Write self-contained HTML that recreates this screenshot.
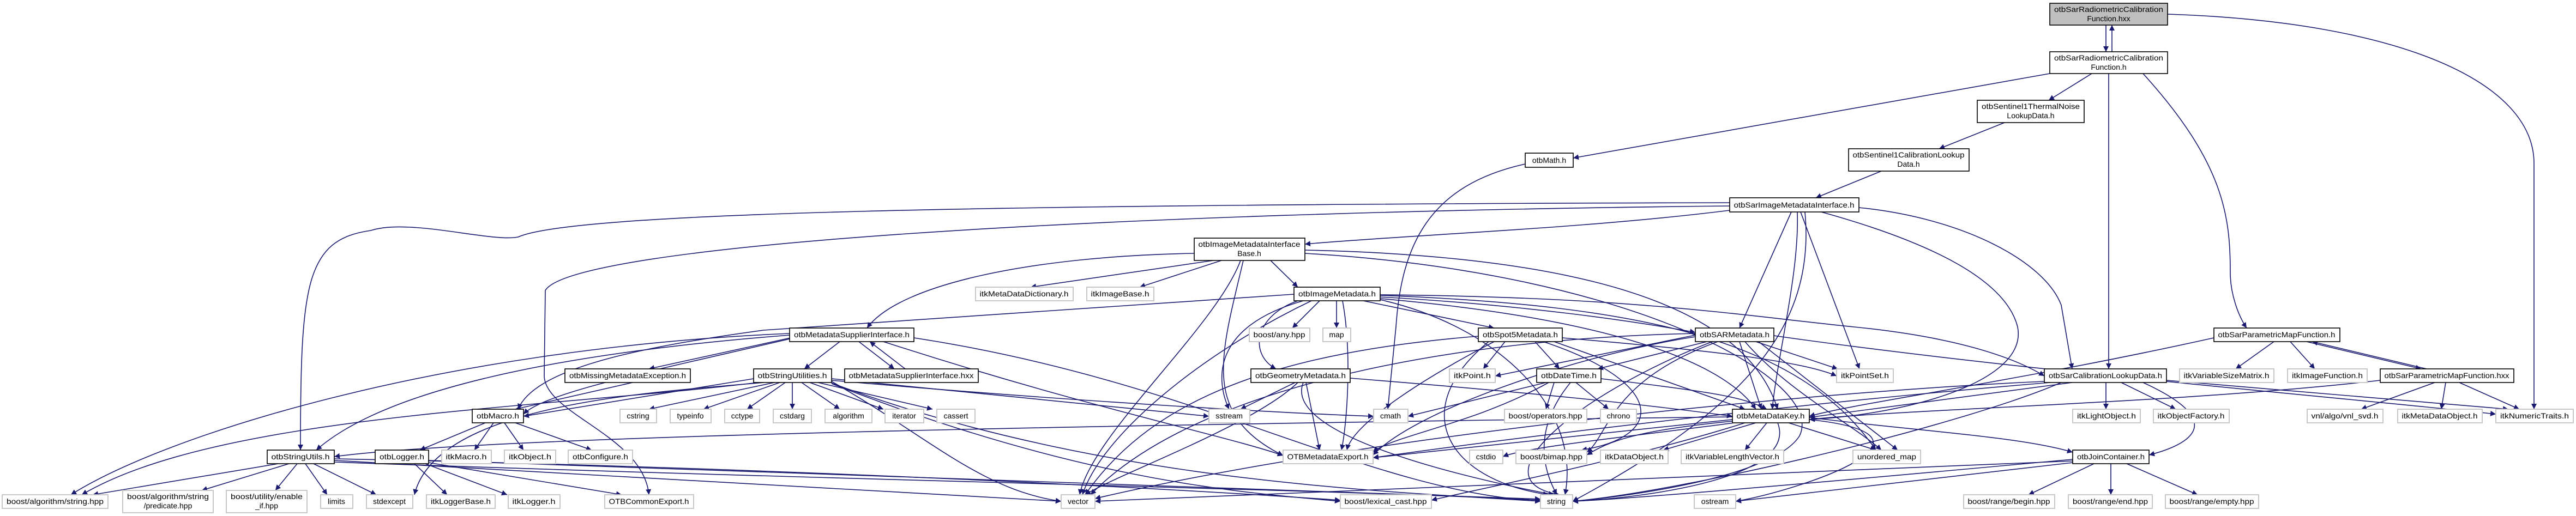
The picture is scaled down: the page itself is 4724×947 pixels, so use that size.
<!DOCTYPE html>
<html><head><meta charset="utf-8"><style>
html,body{margin:0;padding:0;background:#fff;}
svg{display:block;}
text{font-family:"Liberation Sans",sans-serif;font-size:14px;fill:#000;}
.e path{fill:none;stroke:#191970;stroke-width:1.6;}
.n{fill:#fff;stroke:#000;stroke-width:1.6;}
.x{fill:#fff;stroke:#c8c8c8;stroke-width:2;}
</style></head><body>
<svg width="4724" height="947" viewBox="0 0 4724 947" xmlns="http://www.w3.org/2000/svg">
<defs><marker id="a" viewBox="0 0 10 10" refX="10" refY="5" markerWidth="10" markerHeight="10" markerUnits="userSpaceOnUse" orient="auto"><path d="M0,0 L10,5 L0,10 z" fill="#191970"/></marker></defs>
<g class="e" marker-end="url(#a)">
<path marker-end="url(#a)" d="M3862,46 L3862,95"/>
<path marker-end="url(#a)" d="M3873,95 L3873,46"/>
<path marker-end="url(#a)" d="M3975,26 C4400,40 4647,150 4647,300 L4647,751"/>
<path marker-end="url(#a)" d="M3759,135 L2885,290"/>
<path marker-end="url(#a)" d="M3836,135 L3757,184"/>
<path marker-end="url(#a)" d="M3867,135 L3867,677"/>
<path marker-end="url(#a)" d="M3930,135 C4080,300 4090,400 4090,500 C4090,540 4105,580 4120,602"/>
<path marker-end="url(#a)" d="M3676,225 L3556,273"/>
<path marker-end="url(#a)" d="M3450,314 L3330,363"/>
<path marker-end="url(#a)" d="M2797,301 C2620,340 2570,450 2560,600 L2545,751"/>
<path marker-end="url(#a)" d="M3172,386 C2900,420 2600,430 2393,448"/>
<path marker-end="url(#a)" d="M3172,372 C1800,375 1050,390 950,435 C900,445 750,400 680,423 C560,440 551,520 551,826"/>
<path marker-end="url(#a)" d="M3172,378 C2000,390 1050,450 1000,533 L998,690 C1000,760 1180,800 1190,908"/>
<path marker-end="url(#a)" d="M3285,389 L3190,602"/>
<path marker-end="url(#a)" d="M3296,389 C3300,500 3260,650 3250,751"/>
<path marker-end="url(#a)" d="M3302,389 L3410,677"/>
<path marker-end="url(#a)" d="M3409,381 C3600,400 3750,480 3780,560 L3800,677"/>
<path marker-end="url(#a)" d="M3340,389 C3560,450 3680,520 3700,600 C3720,700 3500,760 3318,770"/>
<path marker-end="url(#a)" d="M3310,389 C3330,600 3200,750 2884,920"/>
<path marker-end="url(#a)" d="M2225,478 L1890,527"/>
<path marker-end="url(#a)" d="M2240,478 L2090,527"/>
<path marker-end="url(#a)" d="M2330,478 L2380,527"/>
<path marker-end="url(#a)" d="M2190,465 C1900,470 1650,520 1590,602"/>
<path marker-end="url(#a)" d="M2275,478 C2230,600 2000,800 1980,908"/>
<path marker-end="url(#a)" d="M2280,478 C2240,650 2200,760 2353,836"/>
<path marker-end="url(#a)" d="M2393,459 C2900,470 3200,560 3260,751"/>
<path marker-end="url(#a)" d="M2393,465 C3000,500 3350,700 3300,800 C3250,880 2950,915 2884,920"/>
<path marker-end="url(#a)" d="M2420,552 L2370,602"/>
<path marker-end="url(#a)" d="M2451,552 L2451,602"/>
<path marker-end="url(#a)" d="M2500,552 L2740,602"/>
<path marker-end="url(#a)" d="M2531,545 C2800,560 3000,590 3109,610"/>
<path marker-end="url(#a)" d="M2380,552 C2300,580 2290,650 2340,677"/>
<path marker-end="url(#a)" d="M2373,540 L1400,606 C1150,640 980,680 950,751"/>
<path marker-end="url(#a)" d="M2405,552 C2200,650 2020,800 1985,908"/>
<path marker-end="url(#a)" d="M2462,552 C2480,650 2470,780 2460,826"/>
<path marker-end="url(#a)" d="M2531,548 C2900,580 3150,650 3220,751"/>
<path marker-end="url(#a)" d="M2390,552 C2220,600 2230,700 2254,751"/>
<path marker-end="url(#a)" d="M2531,550 C2750,600 2900,750 2870,908"/>
<path marker-end="url(#a)" d="M2531,542 C3000,560 3300,620 3440,826"/>
<path marker-end="url(#a)" d="M2531,541 C3000,545 3200,580 3400,600 C3600,620 3700,660 3749,690"/>
<path marker-end="url(#a)" d="M1540,627 L1475,677"/>
<path marker-end="url(#a)" d="M1575,627 L1640,677"/>
<path marker-end="url(#a)" d="M1660,677 L1595,627"/>
<path marker-end="url(#a)" d="M1450,620 L1190,677"/>
<path marker-end="url(#a)" d="M1448,622 C1200,680 1000,720 960,760"/>
<path marker-end="url(#a)" d="M1448,615 C1000,650 700,720 580,826"/>
<path marker-end="url(#a)" d="M1448,612 C800,640 300,800 130,908"/>
<path marker-end="url(#a)" d="M1620,627 C2000,750 2250,800 2353,836"/>
<path marker-end="url(#a)" d="M1676,620 C2200,700 2500,900 2825,920"/>
<path marker-end="url(#a)" d="M1420,702 L1190,751"/>
<path marker-end="url(#a)" d="M1430,702 L1290,751"/>
<path marker-end="url(#a)" d="M1440,702 L1370,751"/>
<path marker-end="url(#a)" d="M1453,702 L1453,751"/>
<path marker-end="url(#a)" d="M1470,702 L1540,751"/>
<path marker-end="url(#a)" d="M1485,702 L1620,751"/>
<path marker-end="url(#a)" d="M1500,702 L1710,751"/>
<path marker-end="url(#a)" d="M1525,695 L2217,764"/>
<path marker-end="url(#a)" d="M1525,698 C2000,740 2400,760 2519,764"/>
<path marker-end="url(#a)" d="M1525,700 C1700,800 1800,900 1946,920"/>
<path marker-end="url(#a)" d="M1525,703 C2000,880 2500,900 2825,920"/>
<path marker-end="url(#a)" d="M1525,704 C2000,890 2300,905 2458,920"/>
<path marker-end="url(#a)" d="M1382,695 L960,764"/>
<path marker-end="url(#a)" d="M1400,702 C1200,720 800,740 760,908"/>
<path marker-end="url(#a)" d="M1390,702 C1000,750 400,760 150,908"/>
<path marker-end="url(#a)" d="M1160,702 L945,751"/>
<path marker-end="url(#a)" d="M890,776 L770,826"/>
<path marker-end="url(#a)" d="M905,776 L870,826"/>
<path marker-end="url(#a)" d="M925,776 L960,826"/>
<path marker-end="url(#a)" d="M945,776 L1085,826"/>
<path marker-end="url(#a)" d="M510,851 L170,908"/>
<path marker-end="url(#a)" d="M530,851 L370,900"/>
<path marker-end="url(#a)" d="M545,851 L505,900"/>
<path marker-end="url(#a)" d="M560,851 L600,908"/>
<path marker-end="url(#a)" d="M575,851 L690,908"/>
<path marker-end="url(#a)" d="M613,845 C1200,880 1700,905 1946,920"/>
<path marker-end="url(#a)" d="M613,848 C1500,880 2500,900 2825,918"/>
<path marker-end="url(#a)" d="M613,842 C1500,860 2200,900 2458,918"/>
<path marker-end="url(#a)" d="M760,851 L820,908"/>
<path marker-end="url(#a)" d="M780,851 L930,908"/>
<path marker-end="url(#a)" d="M786,849 L1140,908"/>
<path marker-end="url(#a)" d="M786,845 C1500,870 2400,900 2825,916"/>
<path marker-end="url(#a)" d="M2375,702 L2275,751"/>
<path marker-end="url(#a)" d="M2380,702 C2300,780 2050,870 1990,908"/>
<path marker-end="url(#a)" d="M2395,702 L2420,826"/>
<path marker-end="url(#a)" d="M2390,702 C2350,800 2700,880 2850,908"/>
<path marker-end="url(#a)" d="M2476,694 C2800,720 3000,740 3177,764"/>
<path marker-end="url(#a)" d="M2760,627 L2720,677"/>
<path marker-end="url(#a)" d="M2815,627 L2860,677"/>
<path marker-end="url(#a)" d="M2740,627 C2600,700 2480,780 2470,826"/>
<path marker-end="url(#a)" d="M2850,627 L3200,751"/>
<path marker-end="url(#a)" d="M2730,627 C2580,750 2650,880 2840,908"/>
<path marker-end="url(#a)" d="M2830,627 C3050,700 3060,800 2900,826"/>
<path marker-end="url(#a)" d="M2865,620 C3100,640 3300,660 3368,690"/>
<path marker-end="url(#a)" d="M2711,617 C2300,650 2100,750 1990,908"/>
<path marker-end="url(#a)" d="M3109,615 L2742,690"/>
<path marker-end="url(#a)" d="M3130,627 L2930,677"/>
<path marker-end="url(#a)" d="M3190,627 L3230,751"/>
<path marker-end="url(#a)" d="M3220,627 L3370,677"/>
<path marker-end="url(#a)" d="M3200,627 C3280,720 3400,780 3450,826"/>
<path marker-end="url(#a)" d="M3225,627 L3480,826"/>
<path marker-end="url(#a)" d="M3109,618 C2900,650 2600,750 2518,835"/>
<path marker-end="url(#a)" d="M3109,612 C2700,620 2200,700 2000,908"/>
<path marker-end="url(#a)" d="M3140,627 C2900,720 2700,880 2860,908"/>
<path marker-end="url(#a)" d="M3150,627 C2950,700 2950,800 2910,830"/>
<path marker-end="url(#a)" d="M3253,616 C3700,680 4300,730 4577,760"/>
<path marker-end="url(#a)" d="M2835,702 L2582,764"/>
<path marker-end="url(#a)" d="M2850,702 L2835,751"/>
<path marker-end="url(#a)" d="M2890,702 L2950,751"/>
<path marker-end="url(#a)" d="M2840,702 C2700,780 2550,800 2518,830"/>
<path marker-end="url(#a)" d="M2880,702 C2800,800 2840,880 2855,908"/>
<path marker-end="url(#a)" d="M2936,695 C3150,720 3200,730 3240,751"/>
<path marker-end="url(#a)" d="M3177,770 L2518,840"/>
<path marker-end="url(#a)" d="M3220,776 L3050,826"/>
<path marker-end="url(#a)" d="M3240,776 L3200,826"/>
<path marker-end="url(#a)" d="M3280,776 L3440,826"/>
<path marker-end="url(#a)" d="M3260,776 C3300,880 3000,915 2884,920"/>
<path marker-end="url(#a)" d="M3177,773 C3000,790 2950,810 2910,835"/>
<path marker-end="url(#a)" d="M3180,776 C3000,800 2800,820 2756,838"/>
<path marker-end="url(#a)" d="M3200,776 C3000,840 2700,900 2625,918"/>
<path marker-end="url(#a)" d="M3318,770 C3600,800 3300,900 3183,920"/>
<path marker-end="url(#a)" d="M3177,765 C2000,780 900,800 613,838"/>
<path marker-end="url(#a)" d="M3318,766 C3500,790 3700,800 3801,830"/>
<path marker-end="url(#a)" d="M3862,702 L3862,751"/>
<path marker-end="url(#a)" d="M3890,702 L3990,751"/>
<path marker-end="url(#a)" d="M3800,702 L3318,766"/>
<path marker-end="url(#a)" d="M3760,702 C3300,740 2800,800 2518,840"/>
<path marker-end="url(#a)" d="M3780,702 C3600,780 3100,900 2884,920"/>
<path marker-end="url(#a)" d="M3749,700 C3300,720 2500,800 2008,915"/>
<path marker-end="url(#a)" d="M3973,698 L4600,751"/>
<path marker-end="url(#a)" d="M3930,702 C4100,780 4000,820 3941,835"/>
<path marker-end="url(#a)" d="M4170,627 L4100,677"/>
<path marker-end="url(#a)" d="M4200,627 L4245,677"/>
<path marker-end="url(#a)" d="M4230,627 L4440,677"/>
<path marker-end="url(#a)" d="M4450,677 L4240,627"/>
<path marker-end="url(#a)" d="M4060,620 C3700,700 3400,740 3318,764"/>
<path marker-end="url(#a)" d="M4465,702 L4330,751"/>
<path marker-end="url(#a)" d="M4485,702 L4477,751"/>
<path marker-end="url(#a)" d="M4510,702 L4620,751"/>
<path marker-end="url(#a)" d="M4365,698 C4000,740 3500,750 3318,770"/>
<path marker-end="url(#a)" d="M3840,851 L3720,908"/>
<path marker-end="url(#a)" d="M3871,851 L3871,908"/>
<path marker-end="url(#a)" d="M3900,851 L4030,908"/>
<path marker-end="url(#a)" d="M3801,843 C3400,880 3000,915 2884,920"/>
<path marker-end="url(#a)" d="M3801,846 C3000,880 2300,905 2008,920"/>
<path marker-end="url(#a)" d="M3801,849 L3183,920"/>
</g>
<g text-anchor="middle">
<!-- documented nodes -->
<rect x="3759" y="6" width="216" height="40" fill="#bfbfbf" stroke="#000" stroke-width="1.6"/>
<text x="3867" y="22" textLength="200" lengthAdjust="spacingAndGlyphs">otbSarRadiometricCalibration</text><text x="3867" y="39">Function.hxx</text>
<rect class="n" x="3759" y="95" width="216" height="40"/>
<text x="3867" y="111" textLength="200" lengthAdjust="spacingAndGlyphs">otbSarRadiometricCalibration</text><text x="3867" y="128">Function.h</text>
<rect class="n" x="3626" y="184" width="196" height="41"/>
<text x="3724" y="200" textLength="180" lengthAdjust="spacingAndGlyphs">otbSentinel1ThermalNoise</text><text x="3724" y="217">LookupData.h</text>
<rect class="n" x="3390" y="273" width="221" height="41"/>
<text x="3500" y="289" textLength="205" lengthAdjust="spacingAndGlyphs">otbSentinel1CalibrationLookup</text><text x="3500" y="306">Data.h</text>
<rect class="n" x="2797" y="281" width="88" height="26"/><text x="2841" y="299">otbMath.h</text>
<rect class="n" x="3172" y="363" width="237" height="26"/><text x="3290" y="381" textLength="221" lengthAdjust="spacingAndGlyphs">otbSarImageMetadataInterface.h</text>
<rect class="n" x="2190" y="437" width="203" height="41"/>
<text x="2291" y="453" textLength="187" lengthAdjust="spacingAndGlyphs">otbImageMetadataInterface</text><text x="2291" y="470">Base.h</text>
<rect class="n" x="2373" y="527" width="158" height="25"/><text x="2452" y="544" textLength="142" lengthAdjust="spacingAndGlyphs">otbImageMetadata.h</text>
<rect class="n" x="4060" y="602" width="231" height="25"/><text x="4175" y="619" textLength="215" lengthAdjust="spacingAndGlyphs">otbSarParametricMapFunction.h</text>
<rect class="n" x="1448" y="602" width="228" height="25"/><text x="1562" y="619" textLength="212" lengthAdjust="spacingAndGlyphs">otbMetadataSupplierInterface.h</text>
<rect class="n" x="2711" y="602" width="154" height="25"/><text x="2788" y="619" textLength="138" lengthAdjust="spacingAndGlyphs">otbSpot5Metadata.h</text>
<rect class="n" x="3109" y="602" width="144" height="25"/><text x="3181" y="619" textLength="128" lengthAdjust="spacingAndGlyphs">otbSARMetadata.h</text>
<rect class="n" x="1036" y="677" width="230" height="25"/><text x="1151" y="694" textLength="214" lengthAdjust="spacingAndGlyphs">otbMissingMetadataException.h</text>
<rect class="n" x="1382" y="677" width="143" height="25"/><text x="1453" y="694" textLength="127" lengthAdjust="spacingAndGlyphs">otbStringUtilities.h</text>
<rect class="n" x="1549" y="677" width="245" height="25"/><text x="1671" y="694" textLength="229" lengthAdjust="spacingAndGlyphs">otbMetadataSupplierInterface.hxx</text>
<rect class="n" x="2294" y="677" width="182" height="25"/><text x="2385" y="694" textLength="166" lengthAdjust="spacingAndGlyphs">otbGeometryMetadata.h</text>
<rect class="n" x="2818" y="677" width="118" height="25"/><text x="2877" y="694" textLength="102" lengthAdjust="spacingAndGlyphs">otbDateTime.h</text>
<rect class="n" x="3749" y="677" width="224" height="25"/><text x="3861" y="694" textLength="208" lengthAdjust="spacingAndGlyphs">otbSarCalibrationLookupData.h</text>
<rect class="n" x="4365" y="677" width="245" height="25"/><text x="4487" y="694" textLength="229" lengthAdjust="spacingAndGlyphs">otbSarParametricMapFunction.hxx</text>
<rect class="n" x="866" y="751" width="94" height="25"/><text x="913" y="768" textLength="78" lengthAdjust="spacingAndGlyphs">otbMacro.h</text>
<rect class="n" x="3177" y="751" width="141" height="25"/><text x="3247" y="768" textLength="125" lengthAdjust="spacingAndGlyphs">otbMetaDataKey.h</text>
<rect class="n" x="490" y="826" width="123" height="25"/><text x="551" y="843" textLength="107" lengthAdjust="spacingAndGlyphs">otbStringUtils.h</text>
<rect class="n" x="688" y="826" width="98" height="25"/><text x="737" y="843" textLength="82" lengthAdjust="spacingAndGlyphs">otbLogger.h</text>
<rect class="n" x="3801" y="826" width="140" height="25"/><text x="3871" y="843" textLength="124" lengthAdjust="spacingAndGlyphs">otbJoinContainer.h</text>
<!-- external nodes -->
<rect class="x" x="1789" y="527" width="179" height="25"/><text x="1878" y="544" textLength="163" lengthAdjust="spacingAndGlyphs">itkMetaDataDictionary.h</text>
<rect class="x" x="1993" y="527" width="123" height="25"/><text x="2054" y="544" textLength="107" lengthAdjust="spacingAndGlyphs">itkImageBase.h</text>
<rect class="x" x="2291" y="602" width="111" height="25"/><text x="2346" y="619" textLength="95" lengthAdjust="spacingAndGlyphs">boost/any.hpp</text>
<rect class="x" x="2426" y="602" width="51" height="25"/><text x="2451" y="619">map</text>
<rect class="x" x="2658" y="677" width="84" height="25"/><text x="2700" y="694" textLength="68" lengthAdjust="spacingAndGlyphs">itkPoint.h</text>
<rect class="x" x="3368" y="677" width="104" height="25"/><text x="3420" y="694" textLength="88" lengthAdjust="spacingAndGlyphs">itkPointSet.h</text>
<rect class="x" x="3997" y="677" width="173" height="25"/><text x="4083" y="694" textLength="157" lengthAdjust="spacingAndGlyphs">itkVariableSizeMatrix.h</text>
<rect class="x" x="4195" y="677" width="146" height="25"/><text x="4268" y="694" textLength="130" lengthAdjust="spacingAndGlyphs">itkImageFunction.h</text>
<rect class="x" x="1137" y="751" width="67" height="25"/><text x="1170" y="768">cstring</text>
<rect class="x" x="1229" y="751" width="75" height="25"/><text x="1266" y="768">typeinfo</text>
<rect class="x" x="1329" y="751" width="64" height="25"/><text x="1361" y="768">cctype</text>
<rect class="x" x="1418" y="751" width="70" height="25"/><text x="1453" y="768">cstdarg</text>
<rect class="x" x="1513" y="751" width="86" height="25"/><text x="1556" y="768">algorithm</text>
<rect class="x" x="1623" y="751" width="71" height="25"/><text x="1658" y="768">iterator</text>
<rect class="x" x="1718" y="751" width="70" height="25"/><text x="1753" y="768">cassert</text>
<rect class="x" x="2217" y="751" width="75" height="25"/><text x="2254" y="768">sstream</text>
<rect class="x" x="2519" y="751" width="63" height="25"/><text x="2550" y="768">cmath</text>
<rect class="x" x="2759" y="751" width="151" height="25"/><text x="2834" y="768" textLength="135" lengthAdjust="spacingAndGlyphs">boost/operators.hpp</text>
<rect class="x" x="2935" y="751" width="66" height="25"/><text x="2968" y="768">chrono</text>
<rect class="x" x="3801" y="751" width="124" height="25"/><text x="3863" y="768" textLength="108" lengthAdjust="spacingAndGlyphs">itkLightObject.h</text>
<rect class="x" x="3949" y="751" width="139" height="25"/><text x="4018" y="768" textLength="123" lengthAdjust="spacingAndGlyphs">itkObjectFactory.h</text>
<rect class="x" x="4231" y="751" width="139" height="25"/><text x="4300" y="768" textLength="123" lengthAdjust="spacingAndGlyphs">vnl/algo/vnl_svd.h</text>
<rect class="x" x="4397" y="751" width="155" height="25"/><text x="4474" y="768" textLength="139" lengthAdjust="spacingAndGlyphs">itkMetaDataObject.h</text>
<rect class="x" x="4577" y="751" width="142" height="25"/><text x="4648" y="768" textLength="126" lengthAdjust="spacingAndGlyphs">itkNumericTraits.h</text>
<rect class="x" x="810" y="826" width="91" height="25"/><text x="855" y="843" textLength="75" lengthAdjust="spacingAndGlyphs">itkMacro.h</text>
<rect class="x" x="925" y="826" width="94" height="25"/><text x="972" y="843" textLength="78" lengthAdjust="spacingAndGlyphs">itkObject.h</text>
<rect class="x" x="1042" y="826" width="118" height="25"/><text x="1101" y="843" textLength="102" lengthAdjust="spacingAndGlyphs">otbConfigure.h</text>
<rect class="x" x="2353" y="826" width="165" height="25"/><text x="2435" y="843" textLength="149" lengthAdjust="spacingAndGlyphs">OTBMetadataExport.h</text>
<rect class="x" x="2695" y="826" width="61" height="25"/><text x="2725" y="843">cstdio</text>
<rect class="x" x="2780" y="826" width="130" height="25"/><text x="2845" y="843" textLength="114" lengthAdjust="spacingAndGlyphs">boost/bimap.hpp</text>
<rect class="x" x="2935" y="826" width="124" height="25"/><text x="2997" y="843" textLength="108" lengthAdjust="spacingAndGlyphs">itkDataObject.h</text>
<rect class="x" x="3083" y="826" width="188" height="25"/><text x="3177" y="843" textLength="172" lengthAdjust="spacingAndGlyphs">itkVariableLengthVector.h</text>
<rect class="x" x="3398" y="826" width="124" height="25"/><text x="3460" y="843" textLength="108" lengthAdjust="spacingAndGlyphs">unordered_map</text>
<rect class="x" x="4" y="908" width="194" height="25"/><text x="101" y="925" textLength="178" lengthAdjust="spacingAndGlyphs">boost/algorithm/string.hpp</text>
<rect class="x" x="225" y="900" width="166" height="41"/><text x="308" y="916" textLength="150" lengthAdjust="spacingAndGlyphs">boost/algorithm/string</text><text x="308" y="933">/predicate.hpp</text>
<rect class="x" x="415" y="900" width="148" height="41"/><text x="489" y="916" textLength="132" lengthAdjust="spacingAndGlyphs">boost/utility/enable</text><text x="489" y="933">_if.hpp</text>
<rect class="x" x="588" y="908" width="59" height="25"/><text x="617" y="925">limits</text>
<rect class="x" x="672" y="908" width="85" height="25"/><text x="714" y="925">stdexcept</text>
<rect class="x" x="782" y="908" width="126" height="25"/><text x="845" y="925" textLength="110" lengthAdjust="spacingAndGlyphs">itkLoggerBase.h</text>
<rect class="x" x="932" y="908" width="95" height="25"/><text x="979" y="925" textLength="79" lengthAdjust="spacingAndGlyphs">itkLogger.h</text>
<rect class="x" x="1109" y="908" width="163" height="25"/><text x="1190" y="925" textLength="147" lengthAdjust="spacingAndGlyphs">OTBCommonExport.h</text>
<rect class="x" x="1946" y="908" width="62" height="25"/><text x="1977" y="925">vector</text>
<rect class="x" x="2458" y="908" width="167" height="25"/><text x="2541" y="925" textLength="151" lengthAdjust="spacingAndGlyphs">boost/lexical_cast.hpp</text>
<rect class="x" x="2825" y="908" width="59" height="25"/><text x="2854" y="925">string</text>
<rect class="x" x="3107" y="908" width="76" height="25"/><text x="3145" y="925">ostream</text>
<rect class="x" x="3601" y="908" width="167" height="25"/><text x="3684" y="925" textLength="151" lengthAdjust="spacingAndGlyphs">boost/range/begin.hpp</text>
<rect class="x" x="3793" y="908" width="154" height="25"/><text x="3870" y="925" textLength="138" lengthAdjust="spacingAndGlyphs">boost/range/end.hpp</text>
<rect class="x" x="3971" y="908" width="171" height="25"/><text x="4056" y="925" textLength="155" lengthAdjust="spacingAndGlyphs">boost/range/empty.hpp</text>
</g>
</svg>
</body></html>
